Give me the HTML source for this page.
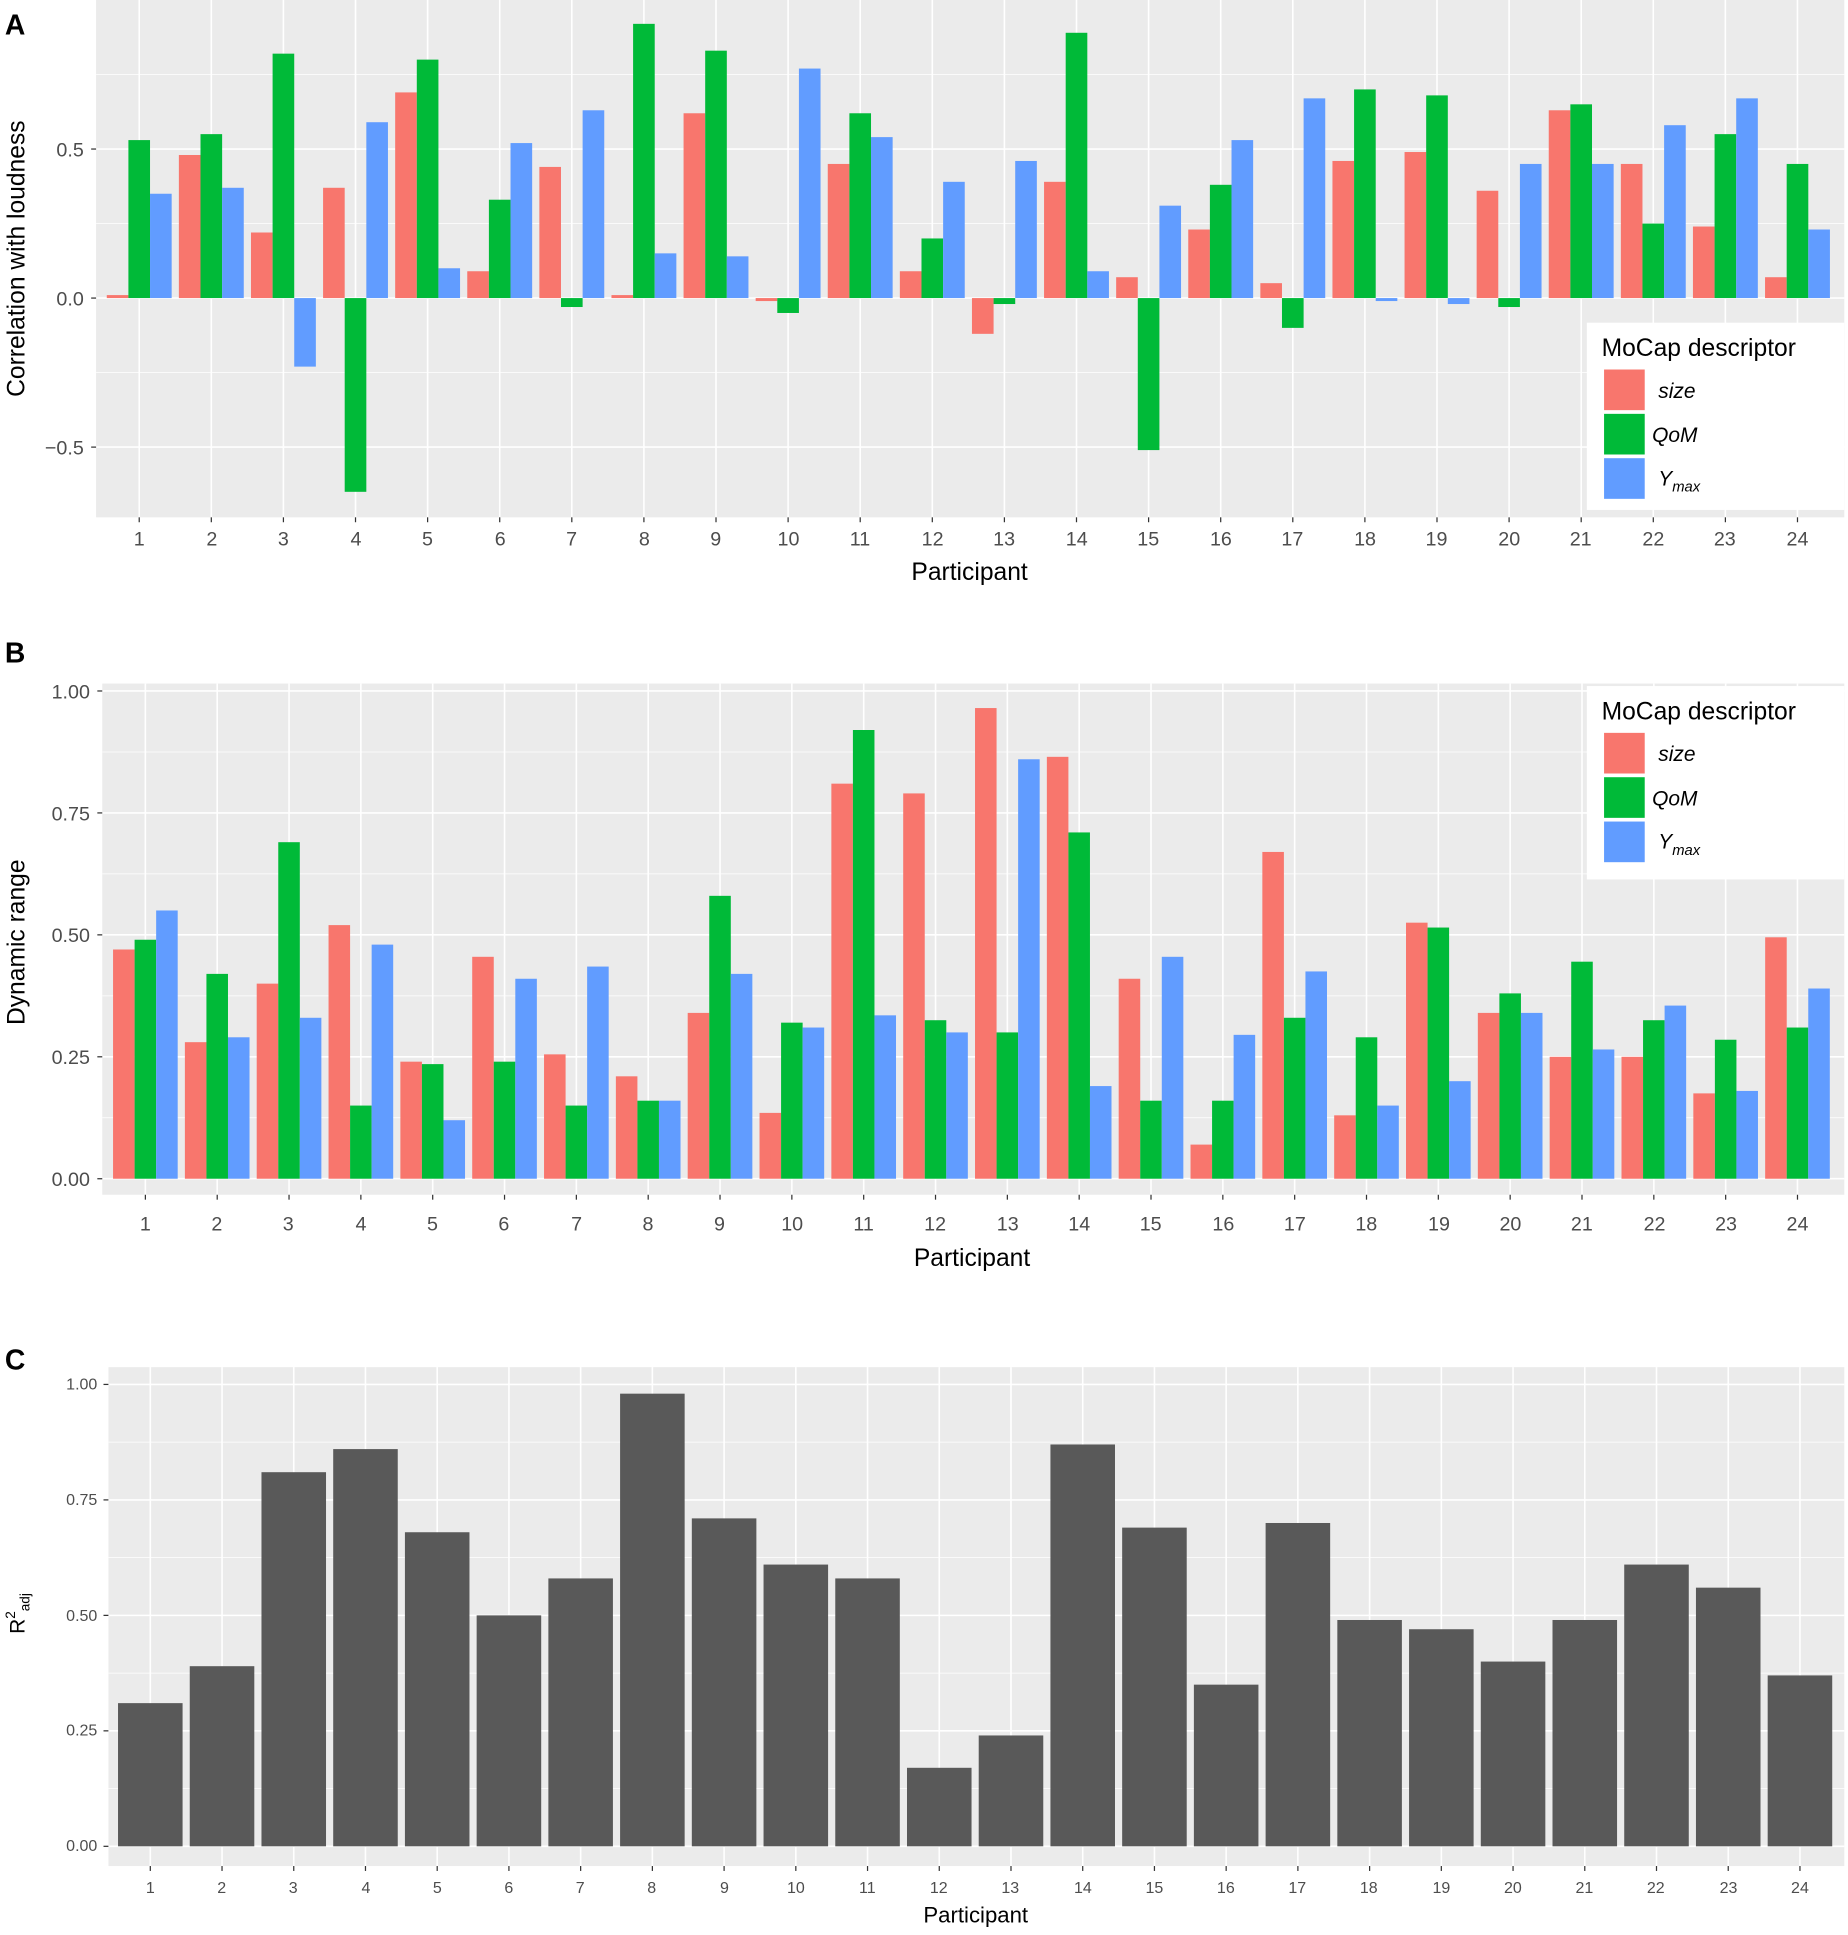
<!DOCTYPE html>
<html><head><meta charset="utf-8"><style>
html,body{margin:0;padding:0;background:#fff;}
svg{display:block;}
text{font-family:"Liberation Sans",Arial,sans-serif;}
.t{font-size:16px;fill:#4d4d4d;text-anchor:middle;}
.ty{font-size:16px;fill:#4d4d4d;text-anchor:end;}
.ts{font-size:13px;fill:#4d4d4d;text-anchor:middle;}
.tys{font-size:13px;fill:#4d4d4d;text-anchor:end;}
.ax{font-size:20px;fill:#000;text-anchor:middle;}
.pl{font-size:23px;font-weight:bold;fill:#000;}
.lg{font-size:20px;fill:#000;}
.li{font-size:17px;font-style:italic;fill:#000;}
</style></head><body>
<svg id="s" width="1848" height="1935" viewBox="0 0 1500 1571" preserveAspectRatio="none" xmlns="http://www.w3.org/2000/svg">
<g id="g"></g>
<!-- Panel A text -->
<text class="pl" x="4" y="28">A</text>
<text class="ty" x="68" y="127">0.5</text>
<text class="ty" x="68" y="248">0.0</text>
<text class="ty" x="68" y="369">−0.5</text>
<text class="ax" transform="translate(20,210) rotate(-90)">Correlation with loudness</text>
<g id="xa"></g>
<text class="ax" x="787" y="471">Participant</text>
<!-- Panel B text -->
<text class="pl" x="4" y="538">B</text>
<text class="ty" x="73" y="567">1.00</text>
<text class="ty" x="73" y="666">0.75</text>
<text class="ty" x="73" y="765">0.50</text>
<text class="ty" x="73" y="864">0.25</text>
<text class="ty" x="73" y="963">0.00</text>
<text class="ax" transform="translate(20,765) rotate(-90)">Dynamic range</text>
<text class="ax" x="789" y="1028">Participant</text>
<!-- Panel C text -->
<text class="pl" x="4" y="1112">C</text>
<text class="tys" x="79" y="1128">1.00</text>
<text class="tys" x="79" y="1222">0.75</text>
<text class="tys" x="79" y="1316">0.50</text>
<text class="tys" x="79" y="1409">0.25</text>
<text class="tys" x="79" y="1503">0.00</text>
<text transform="translate(20,1310) rotate(-90)" style="font-size:17px;fill:#000;text-anchor:middle">R<tspan dy="-8" font-size="11">2</tspan><tspan dy="12" font-size="11">adj</tspan></text>
<text class="ax" style="font-size:18px" x="792" y="1561">Participant</text>
<!-- Legends -->
<rect x="1288" y="262" width="209" height="152" fill="#fff"/>
<text class="lg" x="1300" y="289">MoCap descriptor</text>
<rect x="1302" y="300" width="33" height="33" fill="#F8766D"/>
<rect x="1302" y="336" width="33" height="33" fill="#00BA38"/>
<rect x="1302" y="372" width="33" height="33" fill="#619CFF"/>
<text class="li" x="1346" y="323">size</text>
<text class="li" x="1341" y="359">QoM</text>
<text class="li" x="1346" y="394">Y<tspan font-size="12" dy="5">max</tspan></text>
<rect x="1288" y="557" width="209" height="157" fill="#fff"/>
<text class="lg" x="1300" y="584">MoCap descriptor</text>
<rect x="1302" y="595" width="33" height="33" fill="#F8766D"/>
<rect x="1302" y="631" width="33" height="33" fill="#00BA38"/>
<rect x="1302" y="667" width="33" height="33" fill="#619CFF"/>
<text class="li" x="1346" y="618">size</text>
<text class="li" x="1341" y="654">QoM</text>
<text class="li" x="1346" y="689">Y<tspan font-size="12" dy="5">max</tspan></text>
<!-- X tick labels A -->
<g class="t">
<text x="113" y="443">1</text><text x="172" y="443">2</text><text x="230" y="443">3</text><text x="289" y="443">4</text><text x="347" y="443">5</text><text x="406" y="443">6</text><text x="464" y="443">7</text><text x="523" y="443">8</text><text x="581" y="443">9</text><text x="640" y="443">10</text><text x="698" y="443">11</text><text x="757" y="443">12</text><text x="815" y="443">13</text><text x="874" y="443">14</text><text x="932" y="443">15</text><text x="991" y="443">16</text><text x="1049" y="443">17</text><text x="1108" y="443">18</text><text x="1166" y="443">19</text><text x="1225" y="443">20</text><text x="1283" y="443">21</text><text x="1342" y="443">22</text><text x="1400" y="443">23</text><text x="1459" y="443">24</text>
</g>
<g class="t">
<text x="118" y="999">1</text><text x="176" y="999">2</text><text x="234" y="999">3</text><text x="293" y="999">4</text><text x="351" y="999">5</text><text x="409" y="999">6</text><text x="468" y="999">7</text><text x="526" y="999">8</text><text x="584" y="999">9</text><text x="643" y="999">10</text><text x="701" y="999">11</text><text x="759" y="999">12</text><text x="818" y="999">13</text><text x="876" y="999">14</text><text x="934" y="999">15</text><text x="993" y="999">16</text><text x="1051" y="999">17</text><text x="1109" y="999">18</text><text x="1168" y="999">19</text><text x="1226" y="999">20</text><text x="1284" y="999">21</text><text x="1343" y="999">22</text><text x="1401" y="999">23</text><text x="1459" y="999">24</text>
</g>
<g class="ts">
<text x="122" y="1537">1</text><text x="180" y="1537">2</text><text x="238" y="1537">3</text><text x="297" y="1537">4</text><text x="355" y="1537">5</text><text x="413" y="1537">6</text><text x="471" y="1537">7</text><text x="529" y="1537">8</text><text x="588" y="1537">9</text><text x="646" y="1537">10</text><text x="704" y="1537">11</text><text x="762" y="1537">12</text><text x="820" y="1537">13</text><text x="879" y="1537">14</text><text x="937" y="1537">15</text><text x="995" y="1537">16</text><text x="1053" y="1537">17</text><text x="1111" y="1537">18</text><text x="1170" y="1537">19</text><text x="1228" y="1537">20</text><text x="1286" y="1537">21</text><text x="1344" y="1537">22</text><text x="1403" y="1537">23</text><text x="1461" y="1537">24</text>
</g>
</svg>
<script>
var NS="http://www.w3.org/2000/svg",g=document.getElementById("g");
function el(t,a){var e=document.createElementNS(NS,t);for(var k in a)e.setAttribute(k,a[k]);g.appendChild(e);return e;}
var C=["#F8766D","#00BA38","#619CFF"];
function panel(o){
 el("rect",{x:o.x0,y:o.y0,width:o.x1-o.x0,height:o.y1-o.y0,fill:"#EBEBEB"});
 var yv=function(v){return o.zero-v*o.sc;};
 o.minor.forEach(function(v){el("line",{x1:o.x0,x2:o.x1,y1:yv(v),y2:yv(v),stroke:"#fff","stroke-width":0.6});});
 o.major.forEach(function(v){el("line",{x1:o.x0,x2:o.x1,y1:yv(v),y2:yv(v),stroke:"#fff","stroke-width":1.3});
  el("line",{x1:o.x0-4,x2:o.x0,y1:yv(v),y2:yv(v),stroke:"#333","stroke-width":1});});
 var sp=(o.c24-o.c1)/23;
 for(var i=0;i<24;i++){var cx=o.c1+i*sp;
  el("line",{x1:cx,x2:cx,y1:o.y0,y2:o.y1,stroke:"#fff","stroke-width":1.3});
  el("line",{x1:cx,x2:cx,y1:o.y1,y2:o.y1+4,stroke:"#333","stroke-width":1});}
 for(var i=0;i<24;i++){var cx=o.c1+i*sp,d=o.d[i];
  if(d.length==1){var w=sp*0.9,v=d[0];el("rect",{x:cx-w/2,y:yv(v),width:w,height:v*o.sc,fill:"#595959"});}
  else{var w=sp*0.9/3;for(var j=0;j<3;j++){var v=d[j],x=cx-1.5*w+j*w;
   el("rect",{x:x,y:Math.min(yv(v),o.zero),width:w,height:Math.abs(v*o.sc),fill:C[j]});}}
 }
}
var A=[[.01,.53,.35],[.48,.55,.37],[.22,.82,-.23],[.37,-.65,.59],[.69,.80,.10],[.09,.33,.52],[.44,-.03,.63],[.01,.92,.15],[.62,.83,.14],[-.01,-.05,.77],[.45,.62,.54],[.09,.20,.39],[-.12,-.02,.46],[.39,.89,.09],[.07,-.51,.31],[.23,.38,.53],[.05,-.10,.67],[.46,.70,-.01],[.49,.68,-.02],[.36,-.03,.45],[.63,.65,.45],[.45,.25,.58],[.24,.55,.67],[.07,.45,.23]];
var B=[[.47,.49,.55],[.28,.42,.29],[.40,.69,.33],[.52,.15,.48],[.24,.235,.12],[.455,.24,.41],[.255,.15,.435],[.21,.16,.16],[.34,.58,.42],[.135,.32,.31],[.81,.92,.335],[.79,.325,.30],[.965,.30,.86],[.865,.71,.19],[.41,.16,.455],[.07,.16,.295],[.67,.33,.425],[.13,.29,.15],[.525,.515,.20],[.34,.38,.34],[.25,.445,.265],[.25,.325,.355],[.175,.285,.18],[.495,.31,.39]];
var Cv=[.31,.39,.81,.86,.68,.50,.58,.98,.71,.61,.58,.17,.24,.87,.69,.35,.70,.49,.47,.40,.49,.61,.56,.37].map(function(v){return [v];});
panel({x0:78,x1:1497,y0:0,y1:420,zero:242,sc:242,major:[-.5,0,.5],minor:[-.75,-.25,.25,.75],c1:113,c24:1459,d:A});
panel({x0:83,x1:1497,y0:555,y1:970,zero:957,sc:396,major:[0,.25,.5,.75,1],minor:[.125,.375,.625,.875],c1:118,c24:1459,d:B});
panel({x0:88,x1:1497,y0:1110,y1:1515,zero:1499,sc:375,major:[0,.25,.5,.75,1],minor:[.125,.375,.625,.875],c1:122,c24:1461,d:Cv});
</script>
</body></html>
